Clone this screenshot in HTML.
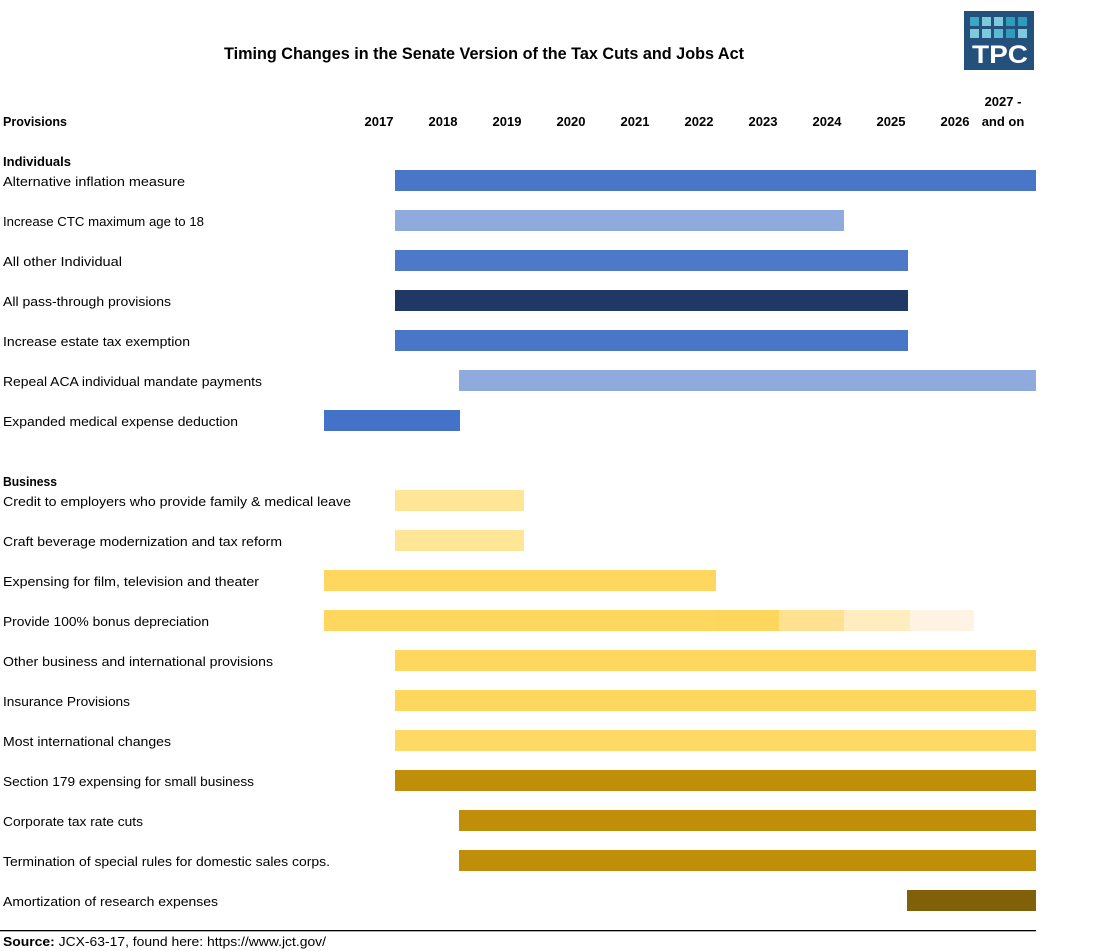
<!DOCTYPE html>
<html>
<head>
<meta charset="utf-8">
<style>
  html,body{margin:0;padding:0;background:#fff;}
  svg{display:block;}
  text{font-family:"Liberation Sans",sans-serif;fill:#000;}
  .lbl{font-size:13px;}
  .b{font-weight:bold;}
</style>
</head>
<body>
<svg width="1100" height="951" viewBox="0 0 1100 951" xmlns="http://www.w3.org/2000/svg">
  <rect x="0" y="0" width="1100" height="951" fill="#fff"/>

  <!-- Title -->
  <text x="224" y="59" class="b" font-size="17" textLength="520" lengthAdjust="spacingAndGlyphs">Timing Changes in the Senate Version of the Tax Cuts and Jobs Act</text>

  <!-- Logo -->
  <rect x="964" y="11" width="70" height="59" fill="#24507C"/>
  <rect x="970" y="17" width="9" height="9" fill="#3CA6C4"/>
  <rect x="982" y="17" width="9" height="9" fill="#7FC9DD"/>
  <rect x="994" y="17" width="9" height="9" fill="#7FC9DD"/>
  <rect x="1006" y="17" width="9" height="9" fill="#2E9CBA"/>
  <rect x="1018" y="17" width="9" height="9" fill="#2E9CBA"/>
  <rect x="970" y="29" width="9" height="9" fill="#7FC9DD"/>
  <rect x="982" y="29" width="9" height="9" fill="#7FC9DD"/>
  <rect x="994" y="29" width="9" height="9" fill="#5DB8D1"/>
  <rect x="1006" y="29" width="9" height="9" fill="#2E9CBA"/>
  <rect x="1018" y="29" width="9" height="9" fill="#7FC9DD"/>
  <text x="972" y="63" font-size="25" font-weight="bold" style="fill:#fff" textLength="56" lengthAdjust="spacingAndGlyphs">TPC</text>

  <!-- Header -->
  <text x="3" y="126" class="lbl b" textLength="64" lengthAdjust="spacingAndGlyphs">Provisions</text>
  <g class="lbl b" text-anchor="middle">
    <text x="379" y="126">2017</text>
    <text x="443" y="126">2018</text>
    <text x="507" y="126">2019</text>
    <text x="571" y="126">2020</text>
    <text x="635" y="126">2021</text>
    <text x="699" y="126">2022</text>
    <text x="763" y="126">2023</text>
    <text x="827" y="126">2024</text>
    <text x="891" y="126">2025</text>
    <text x="955" y="126">2026</text>
    <text x="1003" y="106">2027 -</text>
    <text x="1003" y="126">and on</text>
  </g>

  <!-- Section headers -->
  <text x="3" y="166" class="lbl b" textLength="68" lengthAdjust="spacingAndGlyphs">Individuals</text>
  <text x="3" y="486" class="lbl b" textLength="54" lengthAdjust="spacingAndGlyphs">Business</text>

  <!-- Labels -->
  <g class="lbl">
    <text x="3" y="186" textLength="182" lengthAdjust="spacingAndGlyphs">Alternative inflation measure</text>
    <text x="3" y="226" textLength="201" lengthAdjust="spacingAndGlyphs">Increase CTC maximum age to 18</text>
    <text x="3" y="266" textLength="119" lengthAdjust="spacingAndGlyphs">All other Individual</text>
    <text x="3" y="306" textLength="168" lengthAdjust="spacingAndGlyphs">All pass-through provisions</text>
    <text x="3" y="346" textLength="187" lengthAdjust="spacingAndGlyphs">Increase estate tax exemption</text>
    <text x="3" y="386" textLength="259" lengthAdjust="spacingAndGlyphs">Repeal ACA individual mandate payments</text>
    <text x="3" y="426" textLength="235" lengthAdjust="spacingAndGlyphs">Expanded medical expense deduction</text>
    <text x="3" y="506" textLength="348" lengthAdjust="spacingAndGlyphs">Credit to employers who provide family &amp; medical leave</text>
    <text x="3" y="546" textLength="279" lengthAdjust="spacingAndGlyphs">Craft beverage modernization and tax reform</text>
    <text x="3" y="586" textLength="256" lengthAdjust="spacingAndGlyphs">Expensing for film, television and theater</text>
    <text x="3" y="626" textLength="206" lengthAdjust="spacingAndGlyphs">Provide 100% bonus depreciation</text>
    <text x="3" y="666" textLength="270" lengthAdjust="spacingAndGlyphs">Other business and international provisions</text>
    <text x="3" y="706" textLength="127" lengthAdjust="spacingAndGlyphs">Insurance Provisions</text>
    <text x="3" y="746" textLength="168" lengthAdjust="spacingAndGlyphs">Most international changes</text>
    <text x="3" y="786" textLength="251" lengthAdjust="spacingAndGlyphs">Section 179 expensing for small business</text>
    <text x="3" y="826" textLength="140" lengthAdjust="spacingAndGlyphs">Corporate tax rate cuts</text>
    <text x="3" y="866" textLength="327" lengthAdjust="spacingAndGlyphs">Termination of special rules for domestic sales corps.</text>
    <text x="3" y="906" textLength="215" lengthAdjust="spacingAndGlyphs">Amortization of research expenses</text>
  </g>

  <!-- Bars: Individuals -->
  <rect x="395" y="170" width="641" height="21" fill="#4A76C8"/>
  <rect x="395" y="210" width="449" height="21" fill="#8FABDD"/>
  <rect x="395" y="250" width="513" height="21" fill="#4E78C8"/>
  <rect x="395" y="290" width="513" height="21" fill="#1F3866"/>
  <rect x="395" y="330" width="513" height="21" fill="#4A76C8"/>
  <rect x="459" y="370" width="577" height="21" fill="#8FABDD"/>
  <rect x="324" y="410" width="136" height="21" fill="#4472C8"/>

  <!-- Bars: Business -->
  <rect x="395" y="490" width="129" height="21" fill="#FFE596"/>
  <rect x="395" y="530" width="129" height="21" fill="#FFE596"/>
  <rect x="324" y="570" width="392" height="21" fill="#FFD75E"/>
  <rect x="324" y="610" width="392" height="21" fill="#FFD75E"/>
  <rect x="716" y="610" width="63" height="21" fill="#FFD65C"/>
  <rect x="779" y="610" width="65" height="21" fill="#FFE291"/>
  <rect x="844" y="610" width="66" height="21" fill="#FFEDC0"/>
  <rect x="910" y="610" width="64" height="21" fill="#FFF3E4"/>
  <rect x="395" y="650" width="641" height="21" fill="#FFD75E"/>
  <rect x="395" y="690" width="641" height="21" fill="#FFD75E"/>
  <rect x="395" y="730" width="641" height="21" fill="#FFD966"/>
  <rect x="395" y="770" width="641" height="21" fill="#C08E08"/>
  <rect x="459" y="810" width="577" height="21" fill="#C08E08"/>
  <rect x="459" y="850" width="577" height="21" fill="#C08E08"/>
  <rect x="907" y="890" width="129" height="21" fill="#806008"/>

  <!-- Bottom rule and source -->
  <rect x="0" y="930" width="1036" height="1.3" fill="#000"/>
  <text x="3" y="946" class="lbl" textLength="323" lengthAdjust="spacingAndGlyphs"><tspan class="b">Source:</tspan> JCX-63-17, found here: https://www.jct.gov/</text>
</svg>
</body>
</html>
